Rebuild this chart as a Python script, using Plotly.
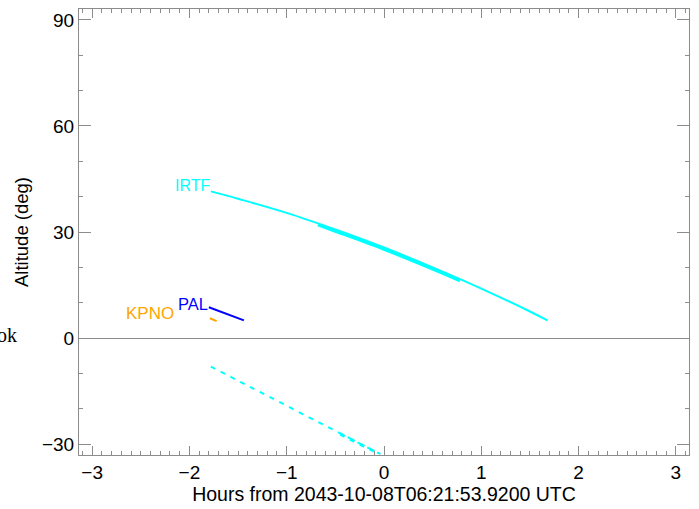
import plotly.graph_objects as go

# IRTF altitude (solid) - hours from reference time, degrees
irtf_h = [-1.78, -1.5, -1.0, -0.5, 0.0, 0.5, 1.0, 1.5, 1.68]
irtf_alt = [41.5, 39.4, 35.4, 30.7, 25.6, 20.0, 14.0, 7.5, 5.0]
# overlapping segment (thicker part)
irtf2_h = [-0.68, -0.5, 0.0, 0.5, 0.78]
irtf2_alt = [32.0, 30.2, 25.1, 19.5, 16.2]
# IRTF dashed (below horizon)
irtfd_h = [-1.78, -1.0, -0.5, -0.04]
irtfd_alt = [-8.1, -19.2, -26.3, -32.8]
irtfd2_h = [-0.45, -0.04]
irtfd2_alt = [-27.2, -32.9]
# PAL
pal_h = [-1.80, -1.62, -1.44]
pal_alt = [8.7, 6.8, 5.0]
# KPNO
kpno_h = [-1.79, -1.72]
kpno_alt = [5.6, 4.8]

xticks = [-3, -2, -1, 0, 1, 2, 3]
yticks = [-30, 0, 30, 60, 90]

CYAN = "#00ffff"
BLUE = "#0000ff"
ORANGE = "#ffa500"
AXC = "#8c8c8c"

fig = go.Figure()
fig.add_trace(go.Scatter(x=irtf_h, y=irtf_alt, mode="lines", line=dict(color=CYAN, width=2, shape="spline")))
fig.add_trace(go.Scatter(x=irtf2_h, y=irtf2_alt, mode="lines", line=dict(color=CYAN, width=3, shape="spline")))
fig.add_trace(go.Scatter(x=irtfd_h, y=irtfd_alt, mode="lines", line=dict(color=CYAN, width=2, dash="5px,6px")))
fig.add_trace(go.Scatter(x=irtfd2_h, y=irtfd2_alt, mode="lines", line=dict(color=CYAN, width=3, dash="5px,6px")))
fig.add_trace(go.Scatter(x=pal_h, y=pal_alt, mode="lines", line=dict(color=BLUE, width=2)))
fig.add_trace(go.Scatter(x=kpno_h, y=kpno_alt, mode="lines", line=dict(color=ORANGE, width=2)))

lab_font = "Liberation Sans, Arial, sans-serif"
fig.add_annotation(x=irtf_h[0], y=irtf_alt[0] + 1.7, text="IRTF", showarrow=False, xanchor="right", yanchor="middle",
                   font=dict(color=CYAN, size=16, family=lab_font), borderpad=0)
fig.add_annotation(x=pal_h[0], y=pal_alt[0] + 1.0, text="PAL", showarrow=False, xanchor="right", yanchor="middle",
                   font=dict(color=BLUE, size=16.5, family=lab_font), borderpad=0)
fig.add_annotation(x=-2.15, y=7.0, text="KPNO", showarrow=False, xanchor="right", yanchor="middle",
                   font=dict(color=ORANGE, size=17, family=lab_font), borderpad=0)
# cut-off legend text at left
fig.add_annotation(xref="paper", yref="y", x=-0.1, y=0.8, text="ok", showarrow=False, xanchor="right", yanchor="middle",
                   font=dict(color="black", size=20, family="Liberation Serif, serif"), borderpad=0)

fig.update_layout(
    width=699, height=509,
    margin=dict(l=79, r=10, t=8, b=51),
    paper_bgcolor="white", plot_bgcolor="white",
    showlegend=False,
    font=dict(family=lab_font, size=19, color="black"),
    xaxis=dict(range=[-3.135, 3.135], tickvals=xticks, ticks="inside", ticklen=9, tickcolor=AXC,
               showline=True, linecolor=AXC, linewidth=1, mirror="ticks", showgrid=False, zeroline=False,
               minor=dict(dtick=0.1, ticks="inside", ticklen=4, tickcolor=AXC, showgrid=False),
               title=dict(text="Hours from 2043-10-08T06:21:53.9200 UTC", font=dict(size=19.5), standoff=5),
               tickfont=dict(size=19)),
    yaxis=dict(range=[-33.1, 93.1], tickvals=yticks, ticks="inside", ticklen=12, tickcolor=AXC,
               showline=True, linecolor=AXC, linewidth=1, mirror="ticks", showgrid=False,
               zeroline=True, zerolinecolor=AXC, zerolinewidth=1,
               minor=dict(dtick=10, ticks="inside", ticklen=4, tickcolor=AXC, showgrid=False),
               title=dict(text="Altitude (deg)", font=dict(size=18.5), standoff=8),
               tickfont=dict(size=19)),
)

# remove the default page margin so the figure fills the window exactly
fig.write_html("out.html", config={"displayModeBar": False},
               post_script="document.body.style.margin='0px';")
